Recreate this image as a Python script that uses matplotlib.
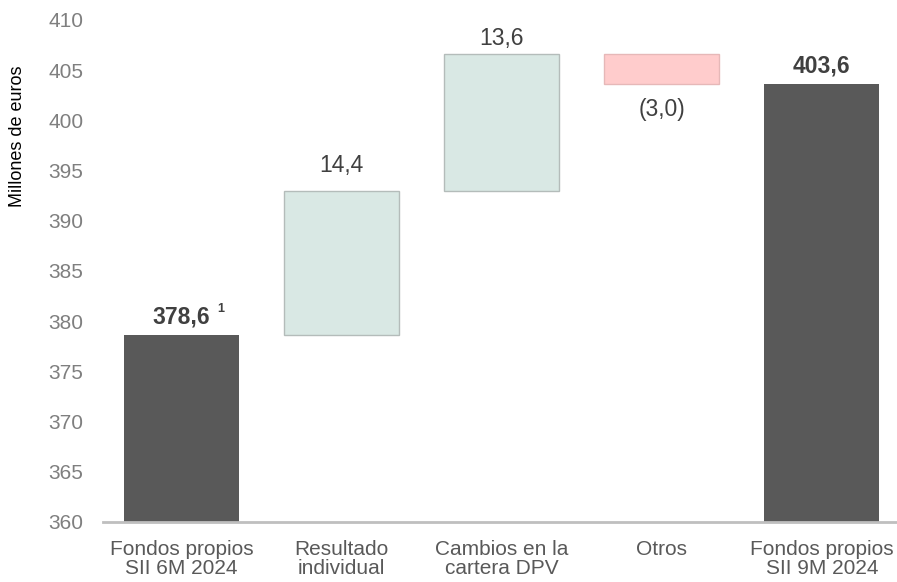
import matplotlib.pyplot as plt

categories = ["Fondos propios\nSII 6M 2024", "Resultado\nindividual",
              "Cambios en la\ncartera DPV", "Otros", "Fondos propios\nSII 9M 2024"]
start_value = 378.6
changes = [14.4, 13.6, -3.0]
end_value = 403.6
labels = ["378,6", "14,4", "13,6", "(3,0)", "403,6"]

plt.rcParams['font.family'] = ['Liberation Sans', 'DejaVu Sans']

fig = plt.figure(figsize=(8.97, 5.82), dpi=100)
ax = fig.add_axes([103 / 897, 1 - 522 / 582, 1 - 103 / 897, (522 - 20) / 582])

dark = "#595959"
green = "#d9e8e4"
pink = "#ffcccc"
width = 0.72

# totals
ax.bar(0, start_value - 360, bottom=360, width=width, color=dark)
ax.bar(4, end_value - 360, bottom=360, width=width, color=dark)

# floating steps
level = start_value
tops = []
for i, ch in enumerate(changes, start=1):
    lo = min(level, level + ch)
    ax.bar(i, abs(ch), bottom=lo, width=width,
           color=green if ch > 0 else pink,
           edgecolor="#b4bcba" if ch > 0 else "#e6b8b8", linewidth=1)
    level += ch
    tops.append(lo + abs(ch))

txt = "#404040"
fs = 16.5
ax.text(0, start_value + 1.2, labels[0], ha="center", va="baseline", fontsize=fs,
        fontweight="bold", color=txt)
ax.text(0.245, start_value + 2.3, "1", ha="center", va="baseline", fontsize=9,
        fontweight="bold", color=txt)
ax.text(1, tops[0] + 1.9, labels[1], ha="center", va="baseline", fontsize=fs, color=txt)
ax.text(2, tops[1] + 0.9, labels[2], ha="center", va="baseline", fontsize=fs, color=txt)
ax.text(3, end_value - 3.2, labels[3], ha="center", va="baseline", fontsize=fs, color=txt)
ax.text(4, end_value + 1.2, labels[4], ha="center", va="baseline", fontsize=fs,
        fontweight="bold", color=txt)

ax.set_xlim(-0.49, 4.47)
ax.set_ylim(360, 410)
ax.set_yticks(range(360, 411, 5))
ax.set_xticks(range(5))
ax.set_xticklabels(categories, fontsize=15, color="#595959", linespacing=1.0)
ax.tick_params(axis="y", length=0, labelsize=15, labelcolor="#7f7f7f", pad=14)
ax.tick_params(axis="x", length=0, pad=13)

for s in ["top", "right", "left"]:
    ax.spines[s].set_visible(False)
ax.spines["bottom"].set_color("#bfbfbf")
ax.spines["bottom"].set_linewidth(2)

fig.text(17 / 897, 1 - 136 / 582, "Millones de euros", rotation=90, ha="center",
         va="center", fontsize=13, color="black")

fig.savefig("out.png", dpi=100)
